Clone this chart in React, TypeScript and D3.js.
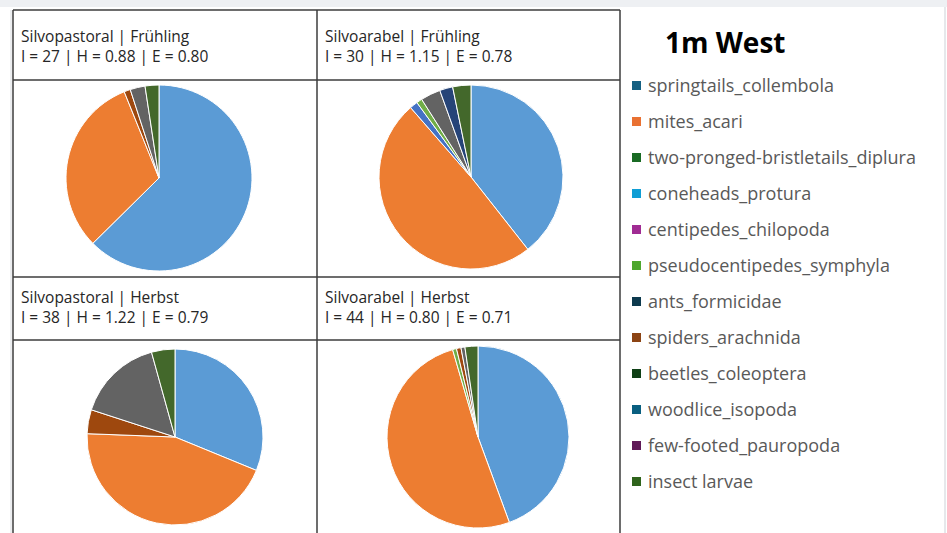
import React from "react";
import * as d3 from "d3";

// soil fauna groups (legend order = slice order)
const categories = [
  "springtails_collembola",
  "mites_acari",
  "two-pronged-bristletails_diplura",
  "coneheads_protura",
  "centipedes_chilopoda",
  "pseudocentipedes_symphyla",
  "ants_formicidae",
  "spiders_arachnida",
  "beetles_coleoptera",
  "woodlice_isopoda",
  "few-footed_pauropoda",
  "insect larvae",
];

// legend swatches (newer office theme)
const legendColors = [
  "#156082", "#E97132", "#196B24", "#0F9ED5", "#A02B93", "#4EA72E",
  "#0D3A4E", "#8C4414", "#0F4016", "#095F80", "#601A58", "#2F641C",
];

// pie slices (older office theme)
const pieColors = [
  "#5B9BD5", "#ED7D31", "#A5A5A5", "#FFC000", "#4472C4", "#70AD47",
  "#255E91", "#9E480E", "#636363", "#997300", "#264478", "#43682B",
];

const panelTitles = [
  "Silvopastoral | Frühling",
  "Silvoarabel | Frühling",
  "Silvopastoral | Herbst",
  "Silvoarabel | Herbst",
];
const panelStats = [
  "I = 27 | H = 0.88 | E = 0.80",
  "I = 30 | H = 1.15 | E = 0.78",
  "I = 38 | H = 1.22 | E = 0.79",
  "I = 44 | H = 0.80 | E = 0.71",
];

// shares in %
const silvopastoralSpring = [62.6, 31.3, 0, 0, 0, 0, 0, 1.1, 2.6, 0, 0, 2.4];
const silvoarabelSpring = [39.4, 49.2, 0, 0, 1.4, 1.0, 0, 0, 3.5, 0, 2.3, 3.2];
const silvopastoralAutumn = [31.2, 44.4, 0, 0, 0, 0, 0, 4.4, 15.7, 0, 0, 4.3];
const silvoarabelAutumn = [44.4, 51.1, 0, 0, 0, 0.7, 0, 0.8, 0.7, 0, 0, 2.3];

const panelData = [silvopastoralSpring, silvoarabelSpring, silvopastoralAutumn, silvoarabelAutumn];

const W = 947;
const H = 533;
const font = "'Open Sans', 'Liberation Sans', sans-serif";
const lineColor = "#3c3c3c";

const colX = [13, 317, 620];
const rowY = [10, 80, 277, 340, 533];

// pie placement per panel
const pieLayout = [
  { cx: 159, cy: 178, r: 93 },
  { cx: 471, cy: 177, r: 92 },
  { cx: 175, cy: 437, r: 88 },
  { cx: 478, cy: 437, r: 91 },
];

const titleOffsets = [
  [31.5, 51.5],
  [26, 46],
];

function Pie({ values, cx, cy, r }: { values: number[]; cx: number; cy: number; r: number }) {
  const pie = d3.pie<number>().sort(null).value((d) => d);
  const arc = d3.arc<d3.PieArcDatum<number>>().innerRadius(0).outerRadius(r);
  const arcs = pie(values).map((a, i) => ({ a, i })).filter((d) => d.a.value > 0);
  return (
    <g transform={`translate(${cx},${cy})`}>
      {arcs.map(({ a, i }) => (
        <path key={i} d={arc(a) || ""} fill={pieColors[i]} stroke="#ffffff" strokeWidth={1} />
      ))}
    </g>
  );
}

export default function App() {
  const legendY = d3.scalePoint<string>().domain(categories).range([86, 482]);

  return (
    <div style={{ position: "absolute", left: 0, top: 0 }}>
      <svg width={W} height={H} style={{ display: "block", background: "#ffffff" }}>
        {/* light frame around the sheet */}
        <rect x={0} y={0} width={W} height={7} fill="#eef0f3" />
        <line x1={945} x2={945} y1={7} y2={H} stroke="#e6e8eb" strokeWidth={2} />
        <line x1={11} x2={11} y1={10} y2={H} stroke="#d9dce0" strokeWidth={1} />

        {/* table grid */}
        {rowY.slice(0, 4).map((y, i) => (
          <line key={"h" + i} x1={colX[0]} x2={colX[2]} y1={y} y2={y} stroke={lineColor} strokeWidth={1.5} />
        ))}
        {colX.map((x, i) => (
          <line key={"v" + i} x1={x} x2={x} y1={rowY[0]} y2={H} stroke={lineColor} strokeWidth={1.5} />
        ))}

        {/* panel titles */}
        {panelTitles.map((t, i) => {
          const col = i % 2;
          const row = Math.floor(i / 2);
          const x = colX[col] + 8;
          const y0 = rowY[row * 2];
          return (
            <g key={"t" + i} fontFamily={font} fontSize={15.5} fill="#262626">
              <text x={x} y={y0 + titleOffsets[row][0]}>{t}</text>
              <text x={x} y={y0 + titleOffsets[row][1]}>{panelStats[i]}</text>
            </g>
          );
        })}

        {/* pies */}
        {panelData.map((vals, i) => (
          <Pie key={"p" + i} values={vals} {...pieLayout[i]} />
        ))}

        {/* legend */}
        <text x={665} y={53} fontFamily={font} fontSize={28} fontWeight={700} fill="#000000">
          1m West
        </text>
        {categories.map((c, i) => {
          const y = legendY(c) as number;
          return (
            <g key={"l" + i}>
              <rect x={632} y={y - 5} width={9} height={9} fill={legendColors[i]} />
              <text x={648} y={y} dy="0.35em" fontFamily={font} fontSize={18} fill="#595959">
                {c}
              </text>
            </g>
          );
        })}
      </svg>
    </div>
  );
}
